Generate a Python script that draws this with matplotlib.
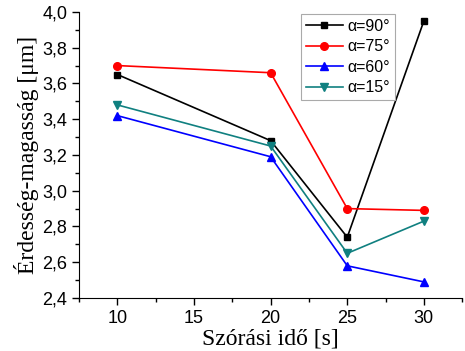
import matplotlib
matplotlib.use("Agg")
import matplotlib.pyplot as plt
from matplotlib.ticker import MultipleLocator, FuncFormatter

# spraying time [s]
times = [10, 20, 25, 30]

# roughness height [um] per angle
a90 = [3.65, 3.28, 2.74, 3.95]
a75 = [3.70, 3.66, 2.90, 2.89]
a60 = [3.42, 3.19, 2.58, 2.49]
a15 = [3.48, 3.25, 2.65, 2.83]

labels = ["α=90°", "α=75°", "α=60°", "α=15°"]

fig = plt.figure(figsize=(4.65, 3.51), dpi=100)
ax = fig.add_axes([0.170, 0.151, 0.824, 0.815])

ax.plot(times, a90, color='black', marker='s', ms=5, lw=1.2, label=labels[0])
ax.plot(times, a75, color='red', marker='o', ms=5.5, lw=1.2, label=labels[1])
ax.plot(times, a60, color='blue', marker='^', ms=6, lw=1.2, label=labels[2])
ax.plot(times, a15, color='#108080', marker='v', ms=6, lw=1.2, label=labels[3])

ax.set_xlim(7.5, 32.5)
ax.set_ylim(2.4, 4.0)
ax.spines['top'].set_visible(False)
ax.spines['right'].set_visible(False)

ax.xaxis.set_major_locator(MultipleLocator(5))
ax.xaxis.set_minor_locator(MultipleLocator(2.5))
ax.yaxis.set_major_locator(MultipleLocator(0.2))
ax.yaxis.set_minor_locator(MultipleLocator(0.1))
ax.yaxis.set_major_formatter(FuncFormatter(lambda v, p: f"{v:.1f}".replace('.', ',')))
ax.tick_params(which='major', direction='out', length=5, width=1, labelsize=13)
ax.tick_params(which='minor', direction='out', length=3, width=1)
for lab in ax.get_xticklabels() + ax.get_yticklabels():
    lab.set_family('Liberation Sans')

ax.set_xlabel("Szórási idő [s]", family='Liberation Serif', fontsize=17, labelpad=1)
ax.set_ylabel("Érdesség-magasság [μm]", family='Liberation Serif', fontsize=17, labelpad=2)

leg = ax.legend(loc='upper left', bbox_to_anchor=(0.58, 0.993), fancybox=False,
                edgecolor='#aaaaaa', framealpha=1, handlelength=2.3,
                prop={'family': 'Liberation Sans', 'size': 11.5},
                borderpad=0.3, labelspacing=0.35, handletextpad=0.3, borderaxespad=0)
leg.get_frame().set_linewidth(0.8)

fig.savefig("out.png", dpi=100)
